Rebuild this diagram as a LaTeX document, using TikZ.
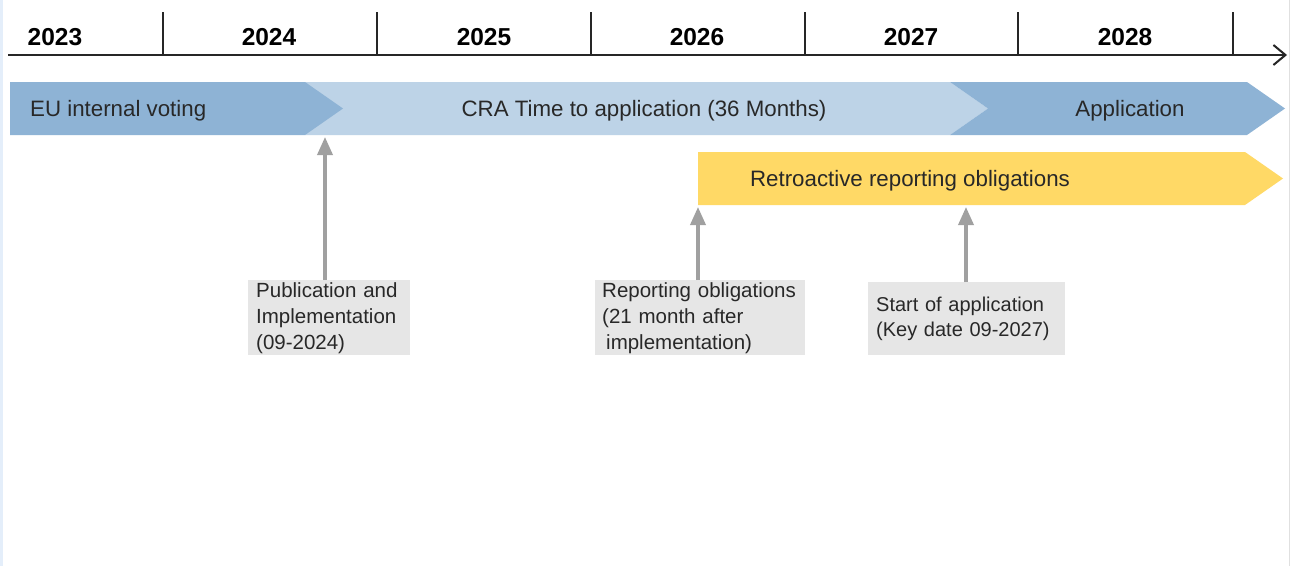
\documentclass[tikz,border=0pt]{standalone}
\usepackage{fontspec}
\setmainfont{Liberation Sans}
\usetikzlibrary{arrows.meta}
\definecolor{bardark}{RGB}{142,179,213}
\definecolor{barlight}{RGB}{189,211,231}
\definecolor{baryellow}{RGB}{255,217,102}
\definecolor{boxgray}{RGB}{230,230,230}
\definecolor{arrgray}{RGB}{160,160,160}
\definecolor{txt}{RGB}{40,40,40}
\definecolor{edgeblue}{RGB}{228,238,250}
\tikzset{
  year/.style={font=\fontsize{24.5}{28}\selectfont\bfseries, text=black, anchor=base, inner sep=0pt},
  bartext/.style={font=\fontsize{22.3}{26}\selectfont, text=txt, inner sep=0pt},
  notebox/.style={fill=boxgray, anchor=north west, align=left, text=txt,
    font=\fontsize{20.5}{26}\selectfont, inner xsep=8pt, inner ysep=0pt},
  pointer/.style={draw=arrgray, line width=3.5pt, -{Triangle[width=15pt,length=18pt]}},
  tick/.style={draw=black!85, line width=2pt}
}
\begin{document}
\begin{tikzpicture}[x=1pt,y=-1pt]
\useasboundingbox (0,0) rectangle (1291,566);
\fill[white] (0,0) rectangle (1291,566);
\fill[edgeblue] (0,0) rectangle (3,566);
\draw[black!12, line width=1pt] (1289,0) -- (1289,566);

% axis
\coordinate (axstart) at (8,55);
\coordinate (axend) at (1287,55);
\draw[line width=2pt, black!85, -{Straight Barb[length=12pt,width=20pt,line width=2pt]}] (axstart) -- (axend);
\foreach \x in {163,377,591,805,1018,1233}{
  \draw[tick] (\x,12) -- (\x,56);
}
\node[year] (y23) at (55,45) {2023};
\node[year] (y24) at (269,45) {2024};
\node[year] (y25) at (484,45) {2025};
\node[year] (y26) at (697,45) {2026};
\node[year] (y27) at (911,45) {2027};
\node[year] (y28) at (1125,45) {2028};

% bars
\fill[barlight] (305,82) -- (950,82) -- (988,108.5) -- (950,135) -- (305,135) -- cycle;
\fill[bardark] (10,82) -- (305,82) -- (343,108.5) -- (305,135) -- (10,135) -- cycle;
\fill[bardark] (950,82) -- (1247,82) -- (1285,108.5) -- (1247,135) -- (950,135) -- (988,108.5) -- cycle;
\fill[baryellow] (698,152) -- (1245,152) -- (1283,178.5) -- (1245,205) -- (698,205) -- cycle;

\node[bartext, anchor=base west] (eu) at (30,116) {EU internal voting};
\node[bartext, anchor=base] (cra) at (644,116) {CRA Time to application (36 Months)};
\node[bartext, anchor=base] (appl) at (1130,116) {Application};
\node[bartext, anchor=base] (retro) at (910,186) {Retroactive reporting obligations};

% targets on bars
\coordinate (t1) at (325,137);
\coordinate (t2) at (698,207);
\coordinate (t3) at (966,207);

% note boxes
\node[notebox, minimum width=162pt, text width=146pt, minimum height=75pt] (b1) at (248,280)
  {Publication and\\Implementation\\(09-2024)};
\node[notebox, minimum width=210pt, text width=196pt, minimum height=75pt, inner xsep=7pt] (b2) at (595,280)
  {Reporting obligations\\(21 month after\\\hspace*{4pt}implementation)};
\node[notebox, minimum width=197pt, text width=181pt, minimum height=73pt, font=\fontsize{20}{25}\selectfont] (b3) at (868,282)
  {Start of application\\(Key date 09-2027)};

\draw[pointer] (b1.north -| t1) -- (t1);
\draw[pointer] (b2.north -| t2) -- (t2);
\draw[pointer] (b3.north -| t3) -- (t3);
\end{tikzpicture}
\end{document}
